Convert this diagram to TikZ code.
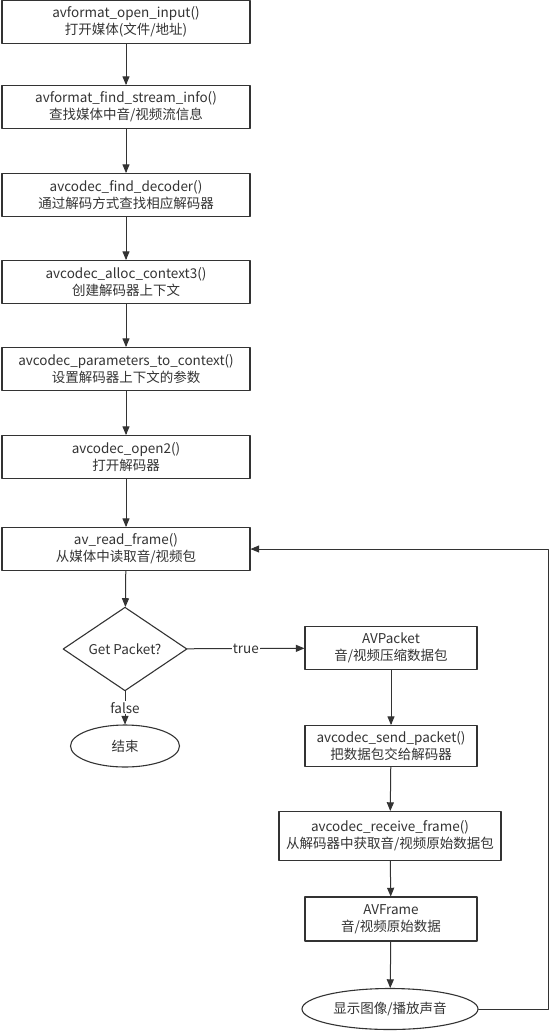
\documentclass[tikz,border=0pt]{standalone}
\usepackage{fontspec}
\setmainfont{Noto Sans CJK SC}
\usepackage{tikz}
\usetikzlibrary{arrows,shapes.geometric}
\definecolor{zzzzzz}{rgb}{0.2,0.2,0.2}

\begin{document}
\begin{tikzpicture}[line cap=round,line join=round,>=triangle 45,x=1pt,y=-1pt,
    every node/.style={text=zzzzzz,font=\fontsize{13.5}{17}\selectfont,align=center,inner sep=0pt},
    box/.style={draw=zzzzzz,line width=1.1pt,minimum width=248pt,minimum height=43pt},
    rbox/.style={draw=zzzzzz,line width=1.1pt,minimum width=172pt,minimum height=43pt},
    oval/.style={draw=zzzzzz,line width=1.1pt,ellipse},
    flow/.style={->,color=zzzzzz,line width=1pt}]
      \useasboundingbox (0,0) rectangle (551,1031);
      % left column
      \node[box] (open) at (126,22) {avformat\_open\_input()\\打开媒体(文件/地址)};
      \node[box] (info) at (126,107) {avformat\_find\_stream\_info()\\查找媒体中音/视频流信息};
      \node[box] (find) at (126,195) {avcodec\_find\_decoder()\\通过解码方式查找相应解码器};
      \node[box] (alloc) at (126,282) {avcodec\_alloc\_context3()\\创建解码器上下文};
      \node[box] (param) at (126,369) {avcodec\_parameters\_to\_context()\\设置解码器上下文的参数};
      \node[box] (open2) at (126,457) {avcodec\_open2()\\打开解码器};
      \node[box] (read) at (126,549) {av\_read\_frame()\\从媒体中读取音/视频包};
      \node[draw=zzzzzz,line width=1.1pt,diamond,minimum width=124pt,minimum height=63pt] (get) at (125,649) {Get Packet?};
      \node[oval,minimum width=109pt,minimum height=42pt] (stop) at (125,746) {结束};
      % right column
      \node[rbox] (pkt) at (391,648) {AVPacket\\音/视频压缩数据包};
      \node[rbox,minimum height=41pt] (send) at (391,746) {avcodec\_send\_packet()\\把数据包交给解码器};
      \node[rbox,minimum width=222pt,minimum height=49pt] (recv) at (390,836) {avcodec\_receive\_frame()\\从解码器中获取音/视频原始数据包};
      \node[rbox,minimum height=44pt] (frm) at (391,919) {AVFrame\\音/视频原始数据};
      \node[oval,minimum width=176pt,minimum height=41pt] (show) at (390,1009) {显示图像/播放声音};
      \coordinate (back) at (548,549);
      % connectors
      \draw[flow] (open) -- (info);
      \draw[flow] (info) -- (find);
      \draw[flow] (find) -- (alloc);
      \draw[flow] (alloc) -- (param);
      \draw[flow] (param) -- (open2);
      \draw[flow] (open2) -- (read);
      \draw[flow] (read) -- (get);
      \draw[flow] (get) -- node[fill=white,inner sep=1pt] {true} (pkt);
      \draw[flow] (get) -- node[fill=white,inner sep=1pt] {false} (stop);
      \draw[flow] (pkt) -- (send);
      \draw[flow] (send) -- (recv);
      \draw[flow] (recv) -- (frm);
      \draw[flow] (frm) -- (show);
      \draw[flow] (show.east) -| (back) -- (read.east);
\end{tikzpicture}
\end{document}
